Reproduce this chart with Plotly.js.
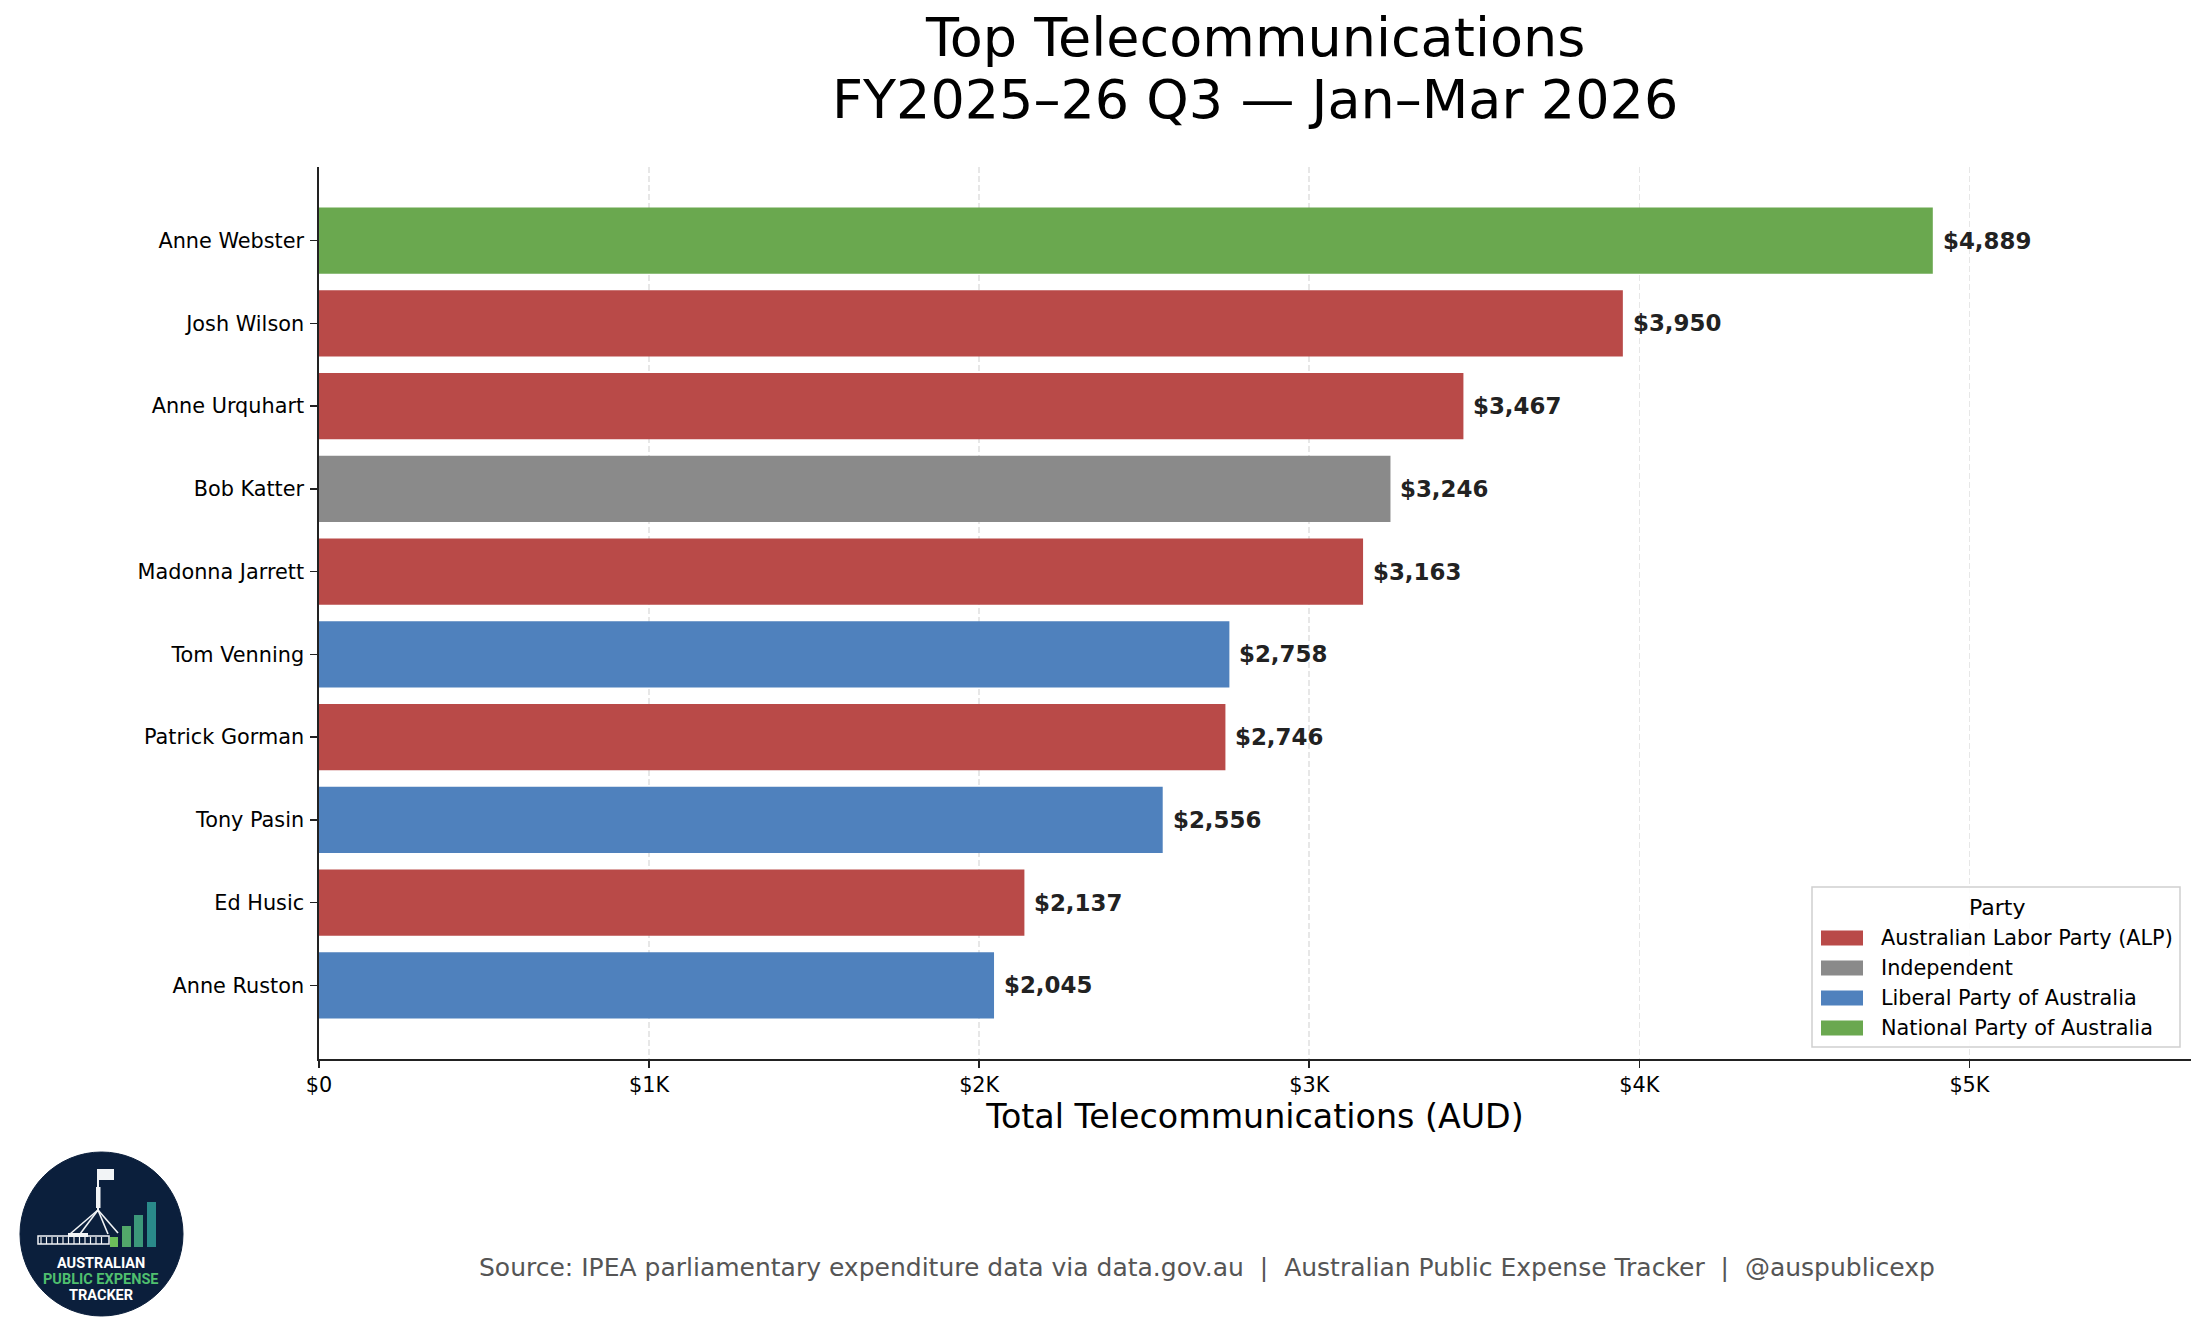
<!DOCTYPE html>
<html>
<head>
<meta charset="utf-8">
<script src="https://cdn.plot.ly/plotly-3.0.1.min.js"></script>
<style>html,body{margin:0;padding:0;background:#fff;}#chart{width:2205px;height:1337px;}</style>
</head>
<body>
<div id="chart"></div>
<script>
// ---- data ----
const names = ["Anne Webster","Josh Wilson","Anne Urquhart","Bob Katter","Madonna Jarrett","Tom Venning","Patrick Gorman","Tony Pasin","Ed Husic","Anne Ruston"];
const values = [4889,3950,3467,3246,3163,2758,2746,2556,2137,2045];
const parties = ["National Party of Australia","Australian Labor Party (ALP)","Australian Labor Party (ALP)","Independent","Australian Labor Party (ALP)","Liberal Party of Australia","Australian Labor Party (ALP)","Liberal Party of Australia","Australian Labor Party (ALP)","Liberal Party of Australia"];
const legendParties = ["Australian Labor Party (ALP)","Independent","Liberal Party of Australia","National Party of Australia"];
const partyColors = {
  "Australian Labor Party (ALP)":"#b94a48",
  "Independent":"#8a8a8a",
  "Liberal Party of Australia":"#4f81bd",
  "National Party of Australia":"#6aa84f"
};
const xTickVals = [0,1000,2000,3000,4000,5000];
const xTickText = ["$0","$1K","$2K","$3K","$4K","$5K"];
const titleLines = ["Top Telecommunications","FY2025–26 Q3 — Jan–Mar 2026"];
const xTitle = "Total Telecommunications (AUD)";
const legendTitle = "Party";
const sourceText = "Source: IPEA parliamentary expenditure data via data.gov.au  |  Australian Public Expense Tracker  |  @auspublicexp";
const logoLines = ["AUSTRALIAN","PUBLIC EXPENSE","TRACKER"];

// ---- geometry helpers (pixel -> paper) ----
const W = 2205, H = 1337;
const L = 319, R = 2191, T = 167, B = 1059;
const px = p => (p - L) / (R - L);
const py = p => (B - p) / (B - T);
const FONT = "DejaVu Sans, sans-serif";

const fmt = v => "$" + v.toLocaleString("en-US");

const trace = {
  type: "bar",
  orientation: "h",
  x: values,
  y: names,
  width: 0.8,
  marker: {color: parties.map(p => partyColors[p]), line: {width: 0}},
  hoverinfo: "x+y",
  showlegend: false
};

const annotations = [];
// value labels
names.forEach((n, i) => {
  annotations.push({
    xref: "x", yref: "y", x: values[i], y: n,
    text: "<b>" + fmt(values[i]) + "</b>",
    showarrow: false, xanchor: "left", yanchor: "middle", xshift: 8,
    font: {family: FONT, size: 22.9, color: "#222"}
  });
});
// title
annotations.push({xref:"paper", yref:"paper", x: px(1255), y: py(38), text: titleLines[0], showarrow:false, xanchor:"center", yanchor:"middle", font:{family:FONT, size:54, color:"#000"}});
annotations.push({xref:"paper", yref:"paper", x: px(1255), y: py(99), text: titleLines[1], showarrow:false, xanchor:"center", yanchor:"middle", font:{family:FONT, size:54, color:"#000"}});
// source
annotations.push({xref:"paper", yref:"paper", x: px(1207), y: py(1267), text: sourceText.replace(/  /g,"&nbsp;&nbsp;"), showarrow:false, xanchor:"center", yanchor:"middle", font:{family:FONT, size:25, color:"#555"}});

const shapes = [];
// legend box
shapes.push({type:"rect", xref:"paper", yref:"paper", x0: px(1812), x1: px(2180), y0: py(1047), y1: py(887), fillcolor:"rgba(255,255,255,0.85)", line:{color:"#d0d0d0", width:1.5}, layer:"above"});
annotations.push({xref:"paper", yref:"paper", x: px(1997), y: py(907), text: legendTitle, showarrow:false, xanchor:"center", yanchor:"middle", font:{family:FONT, size:22, color:"#000"}});
legendParties.forEach((p, i) => {
  const cy = 938 + i * 30;
  shapes.push({type:"rect", xref:"paper", yref:"paper", x0: px(1821), x1: px(1863), y0: py(cy + 7.5), y1: py(cy - 7.5), fillcolor: partyColors[p], line:{width:0}, layer:"above"});
  annotations.push({xref:"paper", yref:"paper", x: px(1879), y: py(cy), text: p, showarrow:false, xanchor:"left", yanchor:"middle", font:{family:FONT, size:20.8, color:"#000"}});
});

// ---- logo ----
const navy = "#0b1f3c";
shapes.push({type:"circle", xref:"paper", yref:"paper", x0: px(20), x1: px(183), y0: py(1316), y1: py(1152), fillcolor:navy, line:{color:navy, width:1}});
const white = "#f2f4f6";
// flagpole, tower and legs
shapes.push({type:"line", xref:"paper", yref:"paper", x0: px(98), x1: px(98), y0: py(1169), y1: py(1212), line:{color:white, width:2}});
shapes.push({type:"rect", xref:"paper", yref:"paper", x0: px(96), x1: px(100.5), y0: py(1208), y1: py(1187), fillcolor:white, line:{width:0}});
shapes.push({type:"rect", xref:"paper", yref:"paper", x0: px(99), x1: px(114), y0: py(1180), y1: py(1169), fillcolor:white, line:{width:0}});
[[70,1234],[80,1234],[108,1234],[118,1233]].forEach(([x2,y2]) => {
  shapes.push({type:"line", xref:"paper", yref:"paper", x0: px(98), x1: px(x2), y0: py(1210), y1: py(y2), line:{color:white, width:1.6}});
});
// parliament building
shapes.push({type:"rect", xref:"paper", yref:"paper", x0: px(38), x1: px(109), y0: py(1244), y1: py(1236), fillcolor:navy, line:{color:white, width:1.5}});
for (let k = 0; k < 12; k++) {
  const xx = 41 + k * 5.5;
  shapes.push({type:"line", xref:"paper", yref:"paper", x0: px(xx), x1: px(xx), y0: py(1244), y1: py(1237), line:{color:white, width:1.2}});
}
shapes.push({type:"rect", xref:"paper", yref:"paper", x0: px(68), x1: px(88), y0: py(1237), y1: py(1233), fillcolor:white, line:{width:0}});
// logo bars
[[110,118,1237,"#6cbf5a"],[122,131,1226,"#52a86a"],[134,143,1215,"#3c987a"],[147,156,1202,"#2a8a8a"]].forEach(([a,b,top,c]) => {
  shapes.push({type:"rect", xref:"paper", yref:"paper", x0: px(a), x1: px(b), y0: py(1247), y1: py(top), fillcolor:c, line:{width:0}});
});
// logo text
[[logoLines[0],1263,"#ffffff"],[logoLines[1],1279,"#4fbf6e"],[logoLines[2],1295,"#ffffff"]].forEach(([t,y,c]) => {
  annotations.push({xref:"paper", yref:"paper", x: px(101), y: py(y), text:"<b>"+t+"</b>", showarrow:false, xanchor:"center", yanchor:"middle", font:{family:"Roboto, sans-serif", size:14.5, color:c}});
});

const layout = {
  width: W, height: H,
  margin: {l: L, r: W - R, t: T, b: H - B, pad: 0},
  paper_bgcolor: "#fff", plot_bgcolor: "#fff",
  font: {family: FONT, color: "#000"},
  bargap: 0.2,
  xaxis: {
    range: [0, 5671.2],
    tickvals: xTickVals, ticktext: xTickText,
    tickfont: {family: FONT, size: 20.8, color: "#000"},
    ticks: "outside", ticklen: 7, tickwidth: 1.7, tickcolor: "#222",
    showline: true, linecolor: "#222", linewidth: 1.7, mirror: false,
    showgrid: true, gridcolor: "rgba(176,176,176,0.3)", gridwidth: 1.6, griddash: "6px,3px",
    zeroline: false,
    layer: "above traces",
    ticklabelstandoff: -1,
    title: {text: xTitle, font: {family: FONT, size: 33.3, color: "#000"}, standoff: 3}
  },
  yaxis: {
    type: "category",
    categoryorder: "array", categoryarray: names,
    range: [9.89, -0.89],
    tickfont: {family: FONT, size: 20.8, color: "#000"},
    ticks: "outside", ticklen: 7, tickwidth: 1.7, tickcolor: "#222",
    showline: true, linecolor: "#222", linewidth: 1.7, mirror: false,
    showgrid: false, zeroline: false,
    ticklabelstandoff: 2
  },
  annotations: annotations,
  shapes: shapes,
  showlegend: false
};

Plotly.newPlot("chart", [trace], layout, {displayModeBar: false, staticPlot: true});
</script>
</body>
</html>
